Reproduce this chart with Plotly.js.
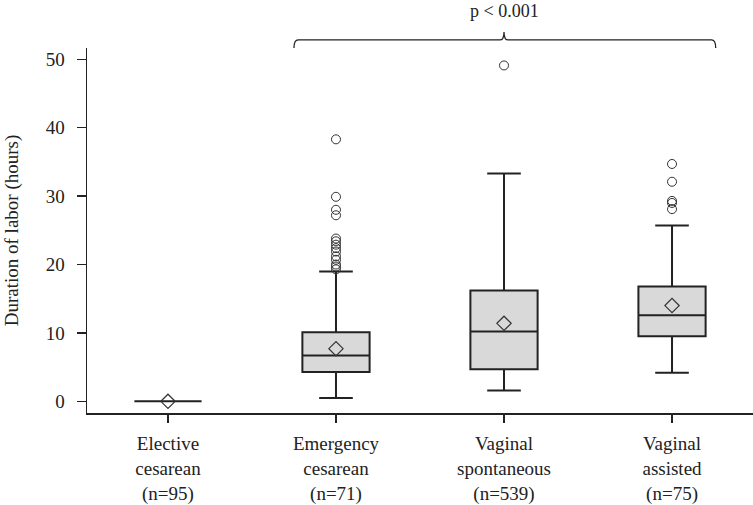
<!DOCTYPE html>
<html>
<head>
<meta charset="utf-8">
<script src="https://cdn.plot.ly/plotly-3.0.1.min.js"></script>
<style>html,body{margin:0;padding:0;background:#fff;}#chart{width:753px;height:505px;}</style>
</head>
<body>
<div id="chart"></div>
<script>
// ---- data ----
const categories = ["Elective<br>cesarean<br>(n=95)", "Emergency<br>cesarean<br>(n=71)", "Vaginal<br>spontaneous<br>(n=539)", "Vaginal<br>assisted<br>(n=75)"];
const q1Values = [0, 4.3, 4.7, 9.5];
const medianValues = [0, 6.7, 10.2, 12.6];
const q3Values = [0, 10.1, 16.2, 16.8];
const lowerWhisker = [0, 0.5, 1.6, 4.2];
const upperWhisker = [0, 19.0, 33.3, 25.7];
const meanValues = [0, 7.7, 11.4, 14.0];
const outliersElective = [];
const outliersEmergency = [38.3, 29.9, 28.0, 27.2, 23.8, 23.4, 22.9, 22.4, 21.9, 21.2, 20.7, 20.0, 19.7, 19.3];
const outliersSpontaneous = [49.1];
const outliersAssisted = [34.7, 32.1, 29.3, 29.0, 28.1];
const yTicks = [0, 10, 20, 30, 40, 50];
const pText = "p < 0.001";

const FONT = '"Liberation Serif", "Times New Roman", serif';
const INK = '#222222';

const outlierGroups = [outliersElective, outliersEmergency, outliersSpontaneous, outliersAssisted];
const ox = [], oy = [];
outlierGroups.forEach((g, i) => g.forEach(v => { ox.push(categories[i]); oy.push(v); }));

const traces = [
  {
    type: 'box',
    x: categories,
    q1: q1Values,
    median: medianValues,
    q3: q3Values,
    lowerfence: lowerWhisker,
    upperfence: upperWhisker,
    width: 0.4,
    whiskerwidth: 0.5,
    fillcolor: '#d9d9d9',
    line: {color: INK, width: 2},
    boxpoints: false,
    hoverinfo: 'skip',
    showlegend: false
  },
  {
    type: 'scatter', mode: 'markers',
    x: ox, y: oy,
    marker: {symbol: 'circle-open', size: 9, color: '#333', line: {width: 1, color: '#333'}},
    hoverinfo: 'skip', showlegend: false
  },
  {
    type: 'scatter', mode: 'markers',
    x: categories, y: meanValues,
    marker: {symbol: 'diamond-open', size: 11, color: '#333', line: {width: 1.2, color: '#333'}},
    hoverinfo: 'skip', showlegend: false
  }
];

// bracket spanning groups 2..4
const bx0 = 1 - 0.25, bx1 = 3 + 0.26, bmid = 2;
const yb = 1.0, yl = 1.022, yt = 1.044;
const bracketPath = `M ${bx0},${yb} Q ${bx0},${yl} ${bx0+0.025},${yl} L ${bmid-0.025},${yl} Q ${bmid},${yl} ${bmid},${yt} Q ${bmid},${yl} ${bmid+0.025},${yl} L ${bx1-0.025},${yl} Q ${bx1},${yl} ${bx1},${yb}`;

const layout = {
  width: 753, height: 505,
  margin: {l: 87, r: 0, t: 48, b: 92},
  paper_bgcolor: '#fff', plot_bgcolor: '#fff',
  font: {family: FONT, size: 19, color: INK},
  showlegend: false,
  xaxis: {
    type: 'category',
    range: [-0.482, 3.482],
    showline: true, linecolor: INK, linewidth: 1.5,
    ticks: 'outside', ticklen: 8, tickcolor: INK, tickwidth: 1.5,
    ticklabelstandoff: 5,
    showgrid: false, zeroline: false,
    tickfont: {family: FONT, size: 19, color: INK},
    fixedrange: true
  },
  yaxis: {
    range: [-1.7, 51.65],
    tickvals: yTicks,
    showline: true, linecolor: INK, linewidth: 1.5,
    ticks: 'outside', ticklen: 9, tickcolor: INK, tickwidth: 1.5,
    ticklabelstandoff: 8,
    showgrid: false, zeroline: false,
    tickfont: {family: FONT, size: 19, color: INK},
    title: {text: 'Duration of labor (hours)', standoff: 22, font: {family: FONT, size: 19, color: INK}},
    fixedrange: true
  },
  shapes: [{
    type: 'path', xref: 'x', yref: 'paper', path: bracketPath,
    line: {color: INK, width: 1.3}
  }],
  annotations: [{
    xref: 'x', yref: 'paper', x: bmid, y: 1.068, yanchor: 'bottom',
    text: pText, showarrow: false,
    font: {family: FONT, size: 18, color: INK}
  }]
};

Plotly.newPlot('chart', traces, layout, {displayModeBar: false, staticPlot: true});
</script>
</body>
</html>
